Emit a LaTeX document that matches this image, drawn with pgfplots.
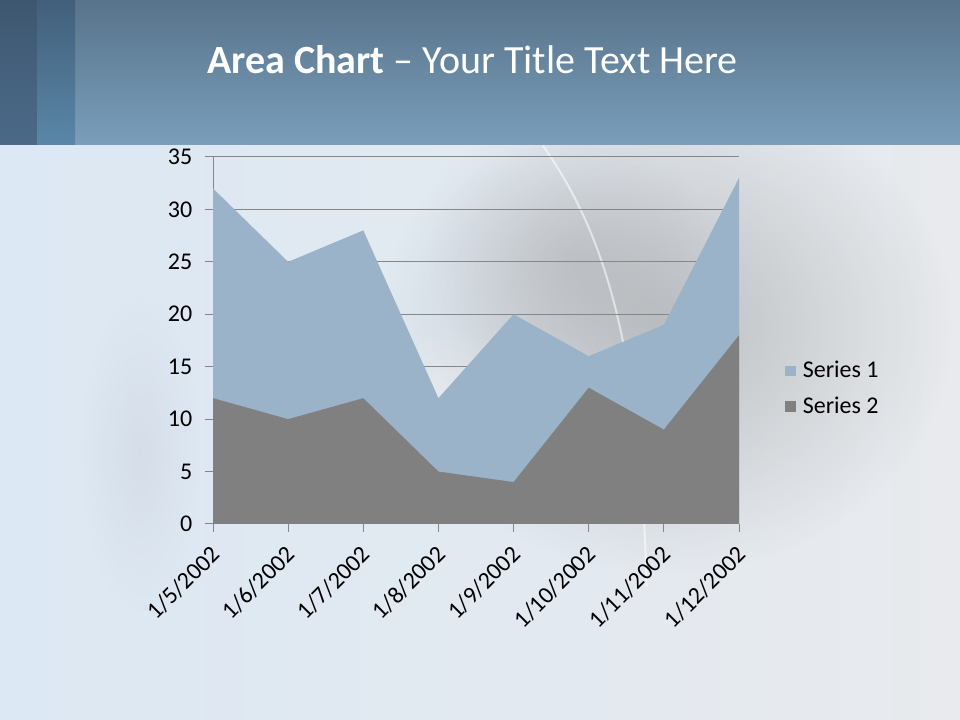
\documentclass[border=0pt]{standalone}
\usepackage{fontspec}
\setmainfont{Carlito}
\usepackage{pgfplots}
\pgfplotsset{compat=1.18}
\usetikzlibrary{fadings}

\definecolor{sone}{RGB}{154,179,200}
\definecolor{stwo}{RGB}{128,128,128}
\definecolor{gridc}{RGB}{134,134,134}
\definecolor{bantop}{RGB}{88,115,138}
\definecolor{banbot}{RGB}{122,158,187}
\definecolor{stripAt}{RGB}{62,87,112}
\definecolor{stripAb}{RGB}{75,106,136}
\definecolor{stripBt}{RGB}{66,95,122}
\definecolor{stripBb}{RGB}{90,135,168}
\definecolor{bgl}{RGB}{220,232,244}
\definecolor{bgr}{RGB}{232,234,237}

\tikzfading[name=softcircle, inner color=transparent!0, outer color=transparent!100]

\begin{document}
\begin{tikzpicture}
% slide background (1px = 0.75pt)
\shade[left color=bgl, right color=bgr] (0pt,0pt) rectangle (720pt,431.25pt);
\fill[black!50, opacity=0.4, path fading=softcircle]
  (500pt,295pt) ellipse (215pt and 185pt);
\fill[black!50, opacity=0.2, path fading=softcircle]
  (430pt,345pt) ellipse (110pt and 90pt);
\fill[white, opacity=0.3, path fading=softcircle]
  (330pt,230pt) ellipse (60pt and 70pt);
\fill[black!40, opacity=0.12, path fading=softcircle]
  (105pt,200pt) ellipse (45pt and 120pt);
\draw[white, opacity=0.55, line width=1.5pt] (407pt,431pt) .. controls (450pt,370pt) and (480pt,290pt) .. (485pt,100pt);
\shade[top color=bantop, bottom color=banbot] (0pt,431.25pt) rectangle (720pt,540pt);
\shade[top color=stripAt, bottom color=stripAb] (0pt,431.25pt) rectangle (27.75pt,540pt);
\shade[top color=stripBt, bottom color=stripBb] (27.75pt,431.25pt) rectangle (56.25pt,540pt);
\node[anchor=base west, inner sep=0, text=white, font=\fontsize{30}{36}\selectfont]
  at (155.25pt,484.5pt) {\textbf{Area Chart} – Your Title Text Here};

\begin{axis}[
  at={(159.75pt,147pt)}, anchor=south west,
  scale only axis, width=394.5pt, height=275.25pt,
  xmin=0, xmax=7, ymin=0, ymax=35,
  xtick={0,...,7}, ytick={0,5,...,35},
  xticklabels={1/5/2002,1/6/2002,1/7/2002,1/8/2002,1/9/2002,1/10/2002,1/11/2002,1/12/2002},
  axis x line*=bottom, axis y line*=left,
  axis line style={gridc, line width=0.75pt, -},
  tick style={gridc, line width=0.75pt},
  tick align=outside, major tick length=6pt,
  ymajorgrids, grid style={gridc, line width=0.75pt},
  /pgf/number format/assume math mode=true,
  ticklabel style={font=\fontsize{18}{21}\selectfont},
  yticklabel style={xshift=-6pt},
  xticklabel style={xshift=4.5pt, yshift=-11.5pt, rotate=45, anchor=east},
  legend style={at={(1.079,0.369)}, anchor=west, draw=none, fill=none,
    font=\fontsize{18}{21}\selectfont, row sep=9pt},
  legend cell align=left,
  legend image code/.code={\fill[#1] (0pt,-3.8pt) rectangle (8.7pt,3.8pt);
    \path (11.5pt,0pt);},
]
\addplot[fill=sone, draw=none] coordinates {
  (0,32) (1,25) (2,28) (3,12) (4,20) (5,16) (6,19) (7,33)
} \closedcycle;
\addplot[fill=stwo, draw=none] coordinates {
  (0,12) (1,10) (2,12) (3,5) (4,4) (5,13) (6,9) (7,18)
} \closedcycle;
\legend{Series 1,Series 2}
\end{axis}
\pgfresetboundingbox
\useasboundingbox (0pt,0pt) rectangle (720pt,540pt);
\end{tikzpicture}
\end{document}
